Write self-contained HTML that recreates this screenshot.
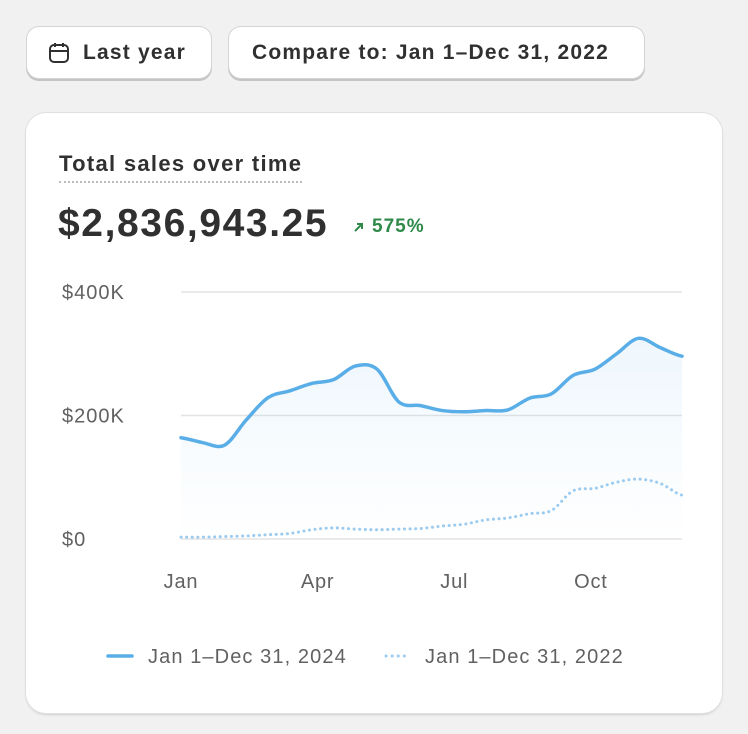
<!DOCTYPE html>
<html><head><meta charset="utf-8"><style>
body{margin:0;width:748px;height:734px;background:#f1f1f1;font-family:"Liberation Sans",sans-serif;position:relative;overflow:hidden}
.btn{position:absolute;top:27px;height:51px;background:#fff;border-radius:12px;box-shadow:0 0 0 1px #d4d4d4,0 2px 0 1px #c4c4c4;font-size:21px;font-weight:600;color:#303030;display:flex;align-items:center;box-sizing:border-box;letter-spacing:1.2px}
.card{position:absolute;left:26px;top:113px;width:696px;height:600px;background:#fff;border-radius:20px;box-shadow:0 0 0 1px #e0e0e0,0 2px 2px #d0d0d0}
</style></head><body>
<div class="btn" style="left:27px;width:184px;padding-left:20px">
<svg width="24" height="24" viewBox="0 0 24 24" style="margin-right:12px"><rect x="3" y="4" width="18" height="17" rx="4" fill="none" stroke="#303030" stroke-width="2"/><line x1="3" y1="10" x2="21" y2="10" stroke="#303030" stroke-width="2"/><line x1="8" y1="2" x2="8" y2="6" stroke="#303030" stroke-width="2"/><line x1="16" y1="2" x2="16" y2="6" stroke="#303030" stroke-width="2"/></svg>Last year</div>
<div class="btn" style="left:229px;width:415px;padding-left:23px">Compare to: Jan 1–Dec 31, 2022</div>
<div class="card"></div>
<div style="position:absolute;left:59px;top:151px;font-size:22px;font-weight:600;color:#303030;border-bottom:2px dotted #bbb;padding-bottom:4px;letter-spacing:1.3px">Total sales over time</div>
<div style="position:absolute;left:58px;top:202px;font-size:39px;font-weight:700;color:#303030;letter-spacing:1.6px">$2,836,943.25</div>
<div style="position:absolute;left:352px;top:216px;font-size:19px;font-weight:600;color:#2f8a4a;letter-spacing:1px;display:flex;align-items:center"><svg width="14" height="14" viewBox="0 0 14 14" style="margin-right:6px"><path d="M3 11 L10 4 M5 4 H10 V9" stroke="#2f8a4a" stroke-width="2" fill="none"/></svg>575%</div>
<svg id="chart" width="748" height="734" style="position:absolute;left:0;top:0"></svg>
<script>
const months=["Jan","Apr","Jul","Oct"];
const monthIdx=[0,3,6,9];
const yTicks=[0,200,400];
const yTickLabels=["$0","$200K","$400K"];
const current=[164,156,152,193,229,240,252,258,280,275,222,216,208,206,208,209,228,235,265,275,300,325,310,296];
const previous=[3,3,4,5,7,9,15,18,16,15,16,17,21,24,31,34,41,46,78,82,92,97,90,71];
const legendLabels=["Jan 1–Dec 31, 2024","Jan 1–Dec 31, 2022"];
const NS="http://www.w3.org/2000/svg",svg=document.getElementById("chart");
const x0=181,x1=682,n=current.length;
const x=i=>x0+i*(x1-x0)/(n-1);
const xm=m=>x0+m*(x1-x0)/11;
const y=v=>539-v*(539-292)/400;
function mk(t,a){const e=document.createElementNS(NS,t);for(const k in a)e.setAttribute(k,a[k]);svg.appendChild(e);return e;}
function path(vals){let d=`M${x(0)},${y(vals[0])}`;for(let i=0;i<vals.length-1;i++){const p0=vals[Math.max(i-1,0)],p1=vals[i],p2=vals[i+1],p3=vals[Math.min(i+2,vals.length-1)];const dx=(x1-x0)/(n-1)/3;d+=` C${x(i)+dx},${y(p1+(p2-p0)/6)} ${x(i+1)-dx},${y(p2-(p3-p1)/6)} ${x(i+1)},${y(p2)}`;}return d;}
const defs=mk("defs",{});defs.innerHTML='<linearGradient id="g" x1="0" y1="0" x2="0" y2="1"><stop offset="0" stop-color="#5aaee8" stop-opacity="0.1"/><stop offset="1" stop-color="#5aaee8" stop-opacity="0"/></linearGradient>';
yTicks.forEach((t,i)=>{
const l=mk("line",{x1:x0,x2:x1,y1:y(t),y2:y(t),stroke:"#e3e3e3","stroke-width":1.5});


const tx=mk("text",{x:62,y:y(t)+7,"font-size":20,fill:"#616161","font-family":"Liberation Sans","letter-spacing":"1"});tx.textContent=yTickLabels[i];


});
months.forEach((m,i)=>{
const tx=mk("text",{x:xm(monthIdx[i]),y:588,"font-size":20,fill:"#616161","text-anchor":"middle","font-family":"Liberation Sans","letter-spacing":"0.8"});tx.textContent=m;


});
const area=mk("path",{d:path(current)+` L${x1},${y(0)} L${x0},${y(0)} Z`,fill:"url(#g)"});


const pl=mk("path",{d:path(previous),fill:"none",stroke:"#9ccbf0","stroke-width":3,"stroke-dasharray":"0.1 5.5","stroke-linecap":"round"});


const cl=mk("path",{d:path(current),fill:"none",stroke:"#5aaee8","stroke-width":3.5,"stroke-linecap":"round"});


const l1=mk("line",{x1:108,x2:132,y1:656,y2:656,stroke:"#5aaee8","stroke-width":3.5,"stroke-linecap":"round"});


const t1=mk("text",{x:148,y:663,"font-size":20,fill:"#616161","font-family":"Liberation Sans","letter-spacing":"1.1"});t1.textContent=legendLabels[0];


const l2=mk("line",{x1:386,x2:410,y1:656,y2:656,stroke:"#9ccbf0","stroke-width":3,"stroke-dasharray":"0.1 6","stroke-linecap":"round"});


const t2=mk("text",{x:425,y:663,"font-size":20,fill:"#616161","font-family":"Liberation Sans","letter-spacing":"1.1"});t2.textContent=legendLabels[1];


</script>
</body></html>
